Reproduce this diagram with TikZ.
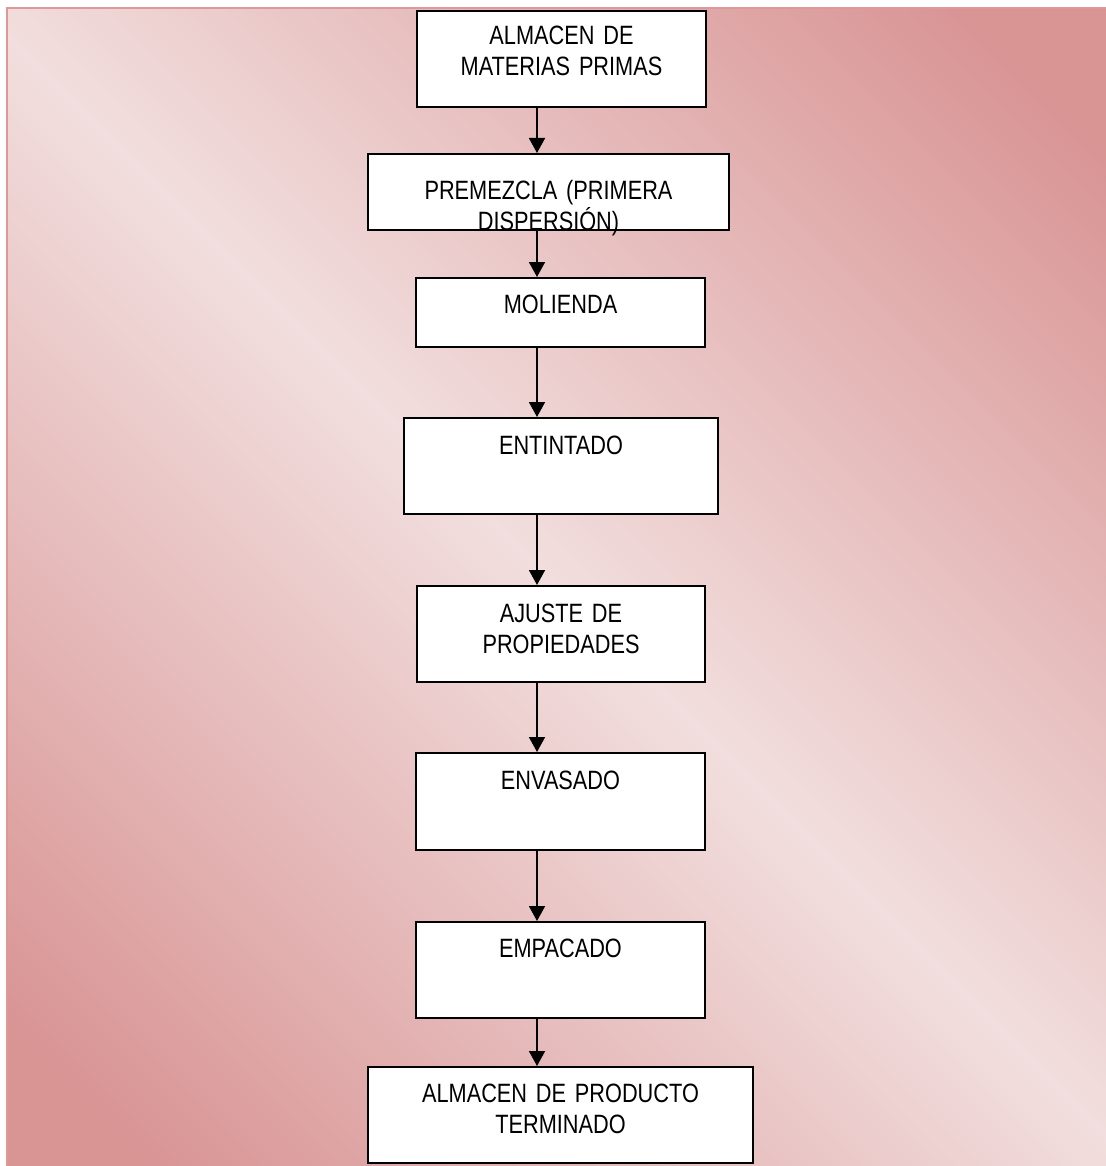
\documentclass[tikz,border=0pt]{standalone}
\usepackage{fontspec}
\setmainfont{Liberation Sans}[FakeStretch=0.82]
\usetikzlibrary{arrows.meta}

\definecolor{bgdark}{RGB}{217,148,148}
\definecolor{bglight}{RGB}{242,222,222}
\definecolor{bgedge}{RGB}{222,152,152}

\pgfdeclareverticalshading{bgdiag}{100bp}{color(0bp)=(bgdark); color(19bp)=(bgdark);
    color(50bp)=(bglight); color(81bp)=(bgdark); color(100bp)=(bgdark)}

\begin{document}
\begin{tikzpicture}[
                    x=1pt, y=-1pt,
                    stepbox/.style={
                        draw,
                        fill=white,
                        line width=1.7pt,
                        inner sep=0pt,
                        anchor=north,
                        align=center,
                        text height=36pt,
                        font=\fontsize{26.5}{31}\selectfont
                    },
                    flow/.style={
                        line width=1.7pt,
                        -{Triangle[width=16pt,length=15pt]}
                    }
                ]

                    \useasboundingbox (0,0) rectangle (1105,1166);
                    % background
                    \begin{scope}[y=1pt]
                        \shade[shading=bgdiag, shading angle=-45]
                            (7pt,-8pt) rectangle (1110pt,-1170pt);
                    \end{scope}
                    \draw[bgedge, line width=2pt] (7,1170) -- (7,8) -- (1110,8);

                    \coordinate (spine) at (537,0);

                    \node[stepbox, text width=289pt, text height=34pt, text depth=62pt] (mp) at (561.5,10) {ALMACEN DE\\MATERIAS PRIMAS};
                    \node[stepbox, text width=361pt, text height=46pt, text depth=30pt] (pre) at (548.5,153) {PREMEZCLA (PRIMERA\\DISPERSIÓN)};
                    \node[stepbox, text width=289pt, text depth=33pt] (mol) at (560.5,277) {MOLIENDA};
                    \node[stepbox, text width=314pt, text height=37pt, text depth=59pt] (ent) at (561,417) {ENTINTADO};
                    \node[stepbox, text width=288pt, text height=37pt, text depth=59pt] (aju) at (561,585) {AJUSTE DE\\PROPIEDADES};
                    \node[stepbox, text width=289pt, text height=37pt, text depth=60pt] (env) at (560.5,752) {ENVASADO};
                    \node[stepbox, text width=289pt, text depth=60pt] (emp) at (560.5,921) {EMPACADO};
                    \node[stepbox, text width=385pt, text depth=60pt] (ap) at (560.5,1066) {ALMACEN DE PRODUCTO\\TERMINADO};

                    % Edges
                    \draw[flow] (mp.south -| spine) -- (pre.north -| spine);
                    \draw[flow] (pre.south -| spine) -- (mol.north -| spine);
                    \draw[flow] (mol.south -| spine) -- (ent.north -| spine);
                    \draw[flow] (ent.south -| spine) -- (aju.north -| spine);
                    \draw[flow] (aju.south -| spine) -- (env.north -| spine);
                    \draw[flow] (env.south -| spine) -- (emp.north -| spine);
                    \draw[flow] (emp.south -| spine) -- (ap.north -| spine);
                \end{tikzpicture}
\end{document}
